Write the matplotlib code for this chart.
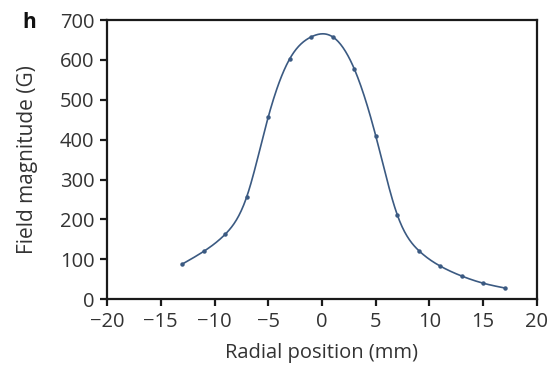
import numpy as np
import matplotlib
matplotlib.use('Agg')
import matplotlib.pyplot as plt

# radial scan of field magnitude
radial_mm = [-13, -11, -9, -7, -5, -3, -1, 1, 3, 5, 7, 9, 11, 13, 15, 17]
field_G = [88, 120, 163, 257, 457, 603, 658, 658, 578, 410, 212, 122, 83, 58, 40, 28]


def natural_spline(x, y, xs):
    x = np.asarray(x, float)
    y = np.asarray(y, float)
    n = len(x)
    h = np.diff(x)
    A = np.zeros((n, n))
    b = np.zeros(n)
    A[0, 0] = A[-1, -1] = 1
    for i in range(1, n - 1):
        A[i, i - 1] = h[i - 1]
        A[i, i] = 2 * (h[i - 1] + h[i])
        A[i, i + 1] = h[i]
        b[i] = 3 * ((y[i + 1] - y[i]) / h[i] - (y[i] - y[i - 1]) / h[i - 1])
    c = np.linalg.solve(A, b)
    idx = np.clip(np.searchsorted(x, xs) - 1, 0, n - 2)
    dx = xs - x[idx]
    hi = h[idx]
    bb = (y[idx + 1] - y[idx]) / hi - hi * (2 * c[idx] + c[idx + 1]) / 3
    d = (c[idx + 1] - c[idx]) / (3 * hi)
    return y[idx] + bb * dx + c[idx] * dx ** 2 + d * dx ** 3


plt.rcParams['font.family'] = 'Open Sans'
text_col = '#333333'
line_col = '#3b5a82'

fig = plt.figure(figsize=(5.49, 3.73), dpi=100)
ax = fig.add_axes([0.195, 0.198, 0.783, 0.748])

xs = np.linspace(radial_mm[0], radial_mm[-1], 400)
ax.plot(xs, natural_spline(radial_mm, field_G, xs), color=line_col, lw=1.2)
ax.plot(radial_mm, field_G, 'o', color=line_col, ms=2.2)

ax.set_xlim(-20, 20)
ax.set_ylim(0, 700)
ax.set_xticks(range(-20, 21, 5))
ax.set_yticks(range(0, 701, 100))
ax.set_xticklabels([str(v).replace('-', '\u2212') for v in range(-20, 21, 5)])

for s in ax.spines.values():
    s.set_linewidth(1.6)
    s.set_color('#1a1a1a')
ax.tick_params(direction='out', length=5, width=1.6, color='#1a1a1a',
               labelsize=14.5, labelcolor=text_col, pad=4)
ax.tick_params(axis='y', pad=4)

ax.set_xlabel('Radial position (mm)', fontsize=14.5, color=text_col, labelpad=8)
ax.set_ylabel('Field magnitude (G)', fontsize=15, color=text_col, labelpad=16)
fig.text(0.04, 0.925, 'h', fontsize=15, fontweight='bold', color='#111111')

plt.savefig('out.png', dpi=100)
